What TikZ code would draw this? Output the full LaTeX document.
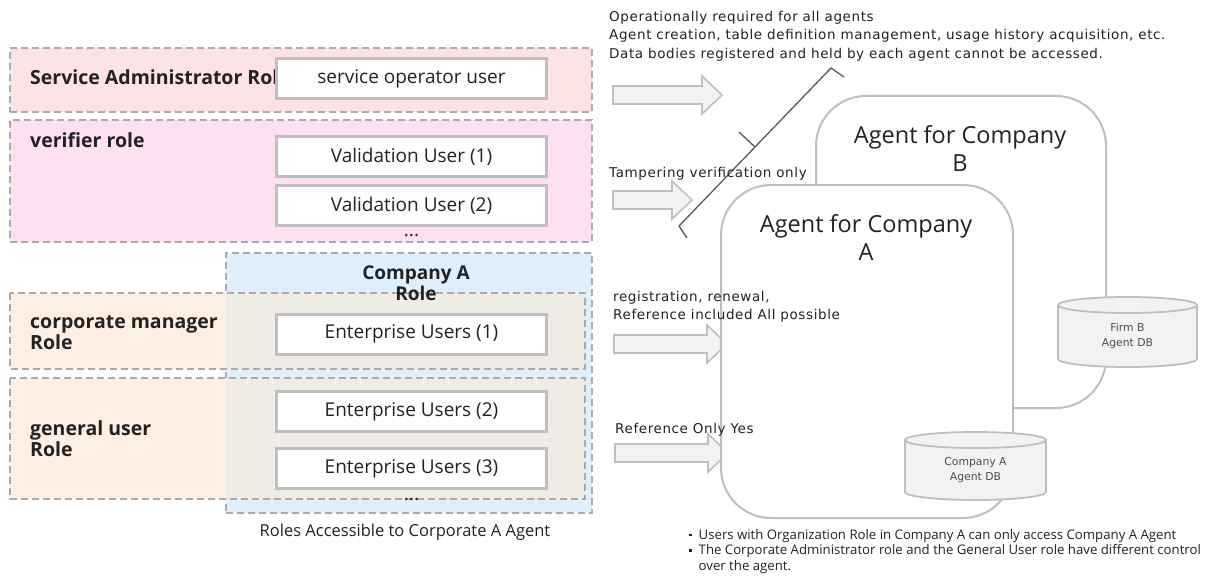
\documentclass[tikz,border=0pt]{standalone}
\usepackage{fontspec}
\setmainfont{Open Sans}
\newfontfamily\notefont[LetterSpace=4.5]{DejaVu Sans}
\newfontfamily\dbfont{DejaVu Sans}
\usetikzlibrary{calc}

\definecolor{adminfill}{HTML}{FCE4E4}
\definecolor{verfill}{HTML}{FDE1F3}
\definecolor{bluefill}{HTML}{DFF0FC}
\definecolor{orangefill}{HTML}{FDEFE3}
\definecolor{mixfill}{HTML}{EFEBE5}
\definecolor{dashgray}{HTML}{ABABAB}
\definecolor{boxgray}{HTML}{BFBFBF}
\definecolor{arrowfill}{HTML}{F2F2F2}
\definecolor{bracketgray}{HTML}{595959}
\definecolor{txt}{HTML}{222222}

\newcommand\dbdrum[4]{% left, right, top-ellipse centre, bottom-ellipse centre
  \pgfmathsetmacro\rx{(#2-#1)/2}
  \filldraw[fill=arrowfill, draw=boxgray, line width=1.8pt]
    (#1,#3) -- (#1,#4) arc[start angle=180, end angle=360, x radius=\rx pt, y radius=8pt]
    -- (#2,#3) arc[start angle=0, end angle=180, x radius=\rx pt, y radius=8pt] -- cycle;
  \draw[draw=boxgray, line width=1.8pt]
    (#1,#3) arc[start angle=180, end angle=360, x radius=\rx pt, y radius=8pt];
}

\begin{document}
\begin{tikzpicture}[x=1pt, y=-1pt,
  rolebox/.style={draw=dashgray, line width=1.6pt, dash pattern=on 7pt off 4pt,
    inner sep=0pt, outer sep=0pt, anchor=north west},
  roleedge/.style={draw=dashgray, line width=1.6pt, dash pattern=on 7pt off 4pt},
  userbox/.style={draw=boxgray, line width=3pt, fill=white, minimum width=270pt,
    minimum height=40pt, inner sep=0pt, text=txt, font=\fontsize{19}{22}\selectfont},
  rolelabel/.style={font=\bfseries\fontsize{19.5}{21.5}\selectfont, align=left,
    anchor=west, inner sep=0pt, text=txt},
  agentbox/.style={draw=boxgray, line width=2pt, fill=white, rounded corners=50pt,
    inner sep=0pt, anchor=north west},
  agenttitle/.style={font=\fontsize{23.5}{28}\selectfont, align=center, text=txt},
  note/.style={font=\notefont\fontsize{13.5}{18.5}\selectfont, align=left,
    inner sep=0pt, anchor=west, text=txt},
  dblabel/.style={font=\dbfont\fontsize{10.8}{14.5}\selectfont, align=center,
    inner sep=0pt, text=txt!80},
  bracketline/.style={draw=bracketgray, line width=1.3pt},
  pics/blockarr/.style={code={
    \filldraw[fill=arrowfill, draw=boxgray, line width=1.6pt]
      (0,-9) -- (#1-20,-9) -- (#1-20,-19) -- (#1,0) -- (#1-20,19) -- (#1-20,9)
      -- (0,9) -- cycle;}}
]
\useasboundingbox (0,0) rectangle (1206,575);

% ---------- left: roles and users ----------
\node[rolebox, fill=adminfill, minimum width=582pt, minimum height=64pt] (admin) at (10,48) {};
\node[rolelabel] (adminlbl) at (30,77) {Service Administrator Role};
\node[userbox] (svcuser) at (411.5,78.5) {service operator user};

\node[rolebox, fill=verfill, minimum width=582pt, minimum height=122pt] (verifier) at (10,120) {};
\node[rolelabel] (verlbl) at (30,140) {verifier role};
\node[userbox] (val1) at (411.5,156.5) {Validation User (1)};
\node[userbox] (val2) at (411.5,205.5) {Validation User (2)};
\node[font=\fontsize{19}{22}\selectfont, text=txt, inner sep=0pt] (verdots) at (411.5,236) {...};

\node[rolebox, fill=bluefill, minimum width=366pt, minimum height=260pt] (compA) at (226,253) {};

\node[rolebox, draw=none, fill=orangefill, minimum width=575pt, minimum height=76pt] (corp) at (10,293) {};
\fill[mixfill] (corp.north -| compA.west) rectangle (corp.south east);
\draw[roleedge] (corp.north west) rectangle (corp.south east);
\node[font=\bfseries\fontsize{19}{20.5}\selectfont, align=center, text=txt, inner sep=0pt]
  (compAlbl) at (416,283) {Company A\\Role};
\node[rolelabel] (corplbl) at (30,332.5) {corporate manager\\Role};
\node[userbox] (ent1) at (411.5,334) {Enterprise Users (1)};

\node[rolebox, draw=none, fill=orangefill, minimum width=575pt, minimum height=121pt] (gen) at (10,378) {};
\fill[mixfill] (gen.north -| compA.west) rectangle (gen.south east);
\draw[roleedge] (gen.north west) rectangle (gen.south east);
\node[rolelabel] (genlbl) at (30,438.5) {general user\\Role};
\node[userbox] (ent2) at (411.5,411.5) {Enterprise Users (2)};
\node[userbox] (ent3) at (411.5,468.5) {Enterprise Users (3)};
\node[font=\fontsize{19}{22}\selectfont, text=txt, inner sep=0pt] (entdots) at (411.5,500) {...};

\node[font=\fontsize{16.5}{20}\selectfont, text=txt, inner sep=0pt] (access) at (405,532)
  {Roles Accessible to Corporate A Agent};

% ---------- permission arrows ----------
\pic (arrAdmin) at (613,95) {blockarr={109}};
\pic (arrVer) at (613,200) {blockarr={79}};
\pic (arrCorp) at (614,344) {blockarr={113}};
\pic (arrGen) at (615,453) {blockarr={113}};

% ---------- agents ----------
\node[agentbox, minimum width=290pt, minimum height=312pt] (agentB) at (815,95) {};
\node[agenttitle] (agentBlbl) at (960,148.5) {Agent for Company\\B};
\dbdrum{1058}{1197}{305}{359}
\node[dblabel] (dbB) at (1127.5,336) {Firm B\\Agent DB};

\node[agentbox, minimum width=292pt, minimum height=333pt] (agentA) at (720,184) {};
\node[agenttitle] (agentAlbl) at (866,237.5) {Agent for Company\\A};
\dbdrum{905}{1046}{440}{492}
\node[dblabel] (dbA) at (975.5,470) {Company A\\Agent DB};

% ---------- bracket over the administrator and verifier arrows ----------
\coordinate (brLow) at (679,226);
\coordinate (brHigh) at (831,68);
\coordinate (brMid) at (755,147);
\draw[bracketline] (687,238) -- (brLow) -- (brHigh) -- (844,77);
\draw[bracketline] (brMid) -- (739,132);

% ---------- notes ----------
\node[note, anchor=north west] (opnote) at (609,11)
  {Operationally required for all agents\\
   Agent creation, table definition management, usage history acquisition, etc.\\
   Data bodies registered and held by each agent cannot be accessed.};
\node[note] (tampnote) at (609,174) {Tampering verification only};
\node[note] (regnote) at (613,307) {registration, renewal,\\Reference included All possible};
\node[note] (refnote) at (615,430) {Reference Only Yes};

\node[font=\fontsize{13.2}{15.5}\selectfont, align=left, inner sep=0pt, anchor=north west, text=txt]
  (rules) at (689,529)
  {\rule[0.22em]{2.5pt}{2.5pt}\hspace{7pt}Users with Organization Role in Company A can only access Company A Agent\\
   \rule[0.22em]{2.5pt}{2.5pt}\hspace{7pt}The Corporate Administrator role and the General User role have different control\\
   \hspace{9.5pt}over the agent.};
\end{tikzpicture}
\end{document}
